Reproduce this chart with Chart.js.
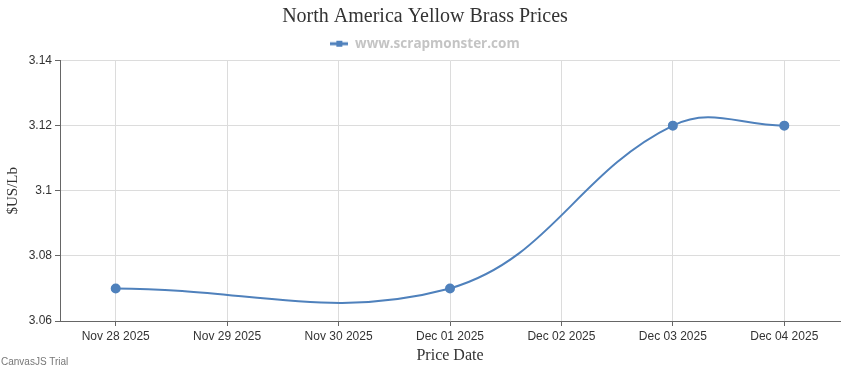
<!DOCTYPE html>
<html>
<head>
<meta charset="utf-8">
<script src="https://cdn.jsdelivr.net/npm/chart.js@4.4.0/dist/chart.umd.min.js"></script>
<style>
  body { margin: 0; background: #fff; }
  #wrap { position: relative; width: 850px; height: 370px; }
  #trial { position: absolute; left: 1px; top: 356px; font: 10px "Liberation Sans", Arial, sans-serif; color: #777; }
</style>
</head>
<body>
<div id="wrap">
  <canvas id="priceChart" width="850" height="370"></canvas>
  <div id="trial">CanvasJS Trial</div>
</div>
<script>
// dates on the x axis (one per day, prices only on some days)
const dateLabels = ["Nov 28 2025", "Nov 29 2025", "Nov 30 2025", "Dec 01 2025", "Dec 02 2025", "Dec 03 2025", "Dec 04 2025"];
const brassPrices = [3.07, null, null, 3.07, null, 3.12, 3.12];
const yTicks = [3.06, 3.08, 3.1, 3.12, 3.14];

const lineColor = '#4f81bc';

// legend marker: a short line with a square in the middle
function legendMarker() {
    let c = document.createElement('canvas');
    c.width = 18; c.height = 8;
    let g = c.getContext('2d');
    g.strokeStyle = lineColor;
    g.lineWidth = 3;
    g.beginPath(); g.moveTo(0, 4); g.lineTo(18, 4); g.stroke();
    g.fillStyle = lineColor;
    g.fillRect(6, 1, 6, 6);
    return c;
}

let ctx = document.getElementById('priceChart').getContext('2d');

let chart = new Chart(ctx, {
    type: 'line',
    data: {
        labels: dateLabels,
        datasets: [{
            label: 'www.scrapmonster.com',
            data: brassPrices,
            borderColor: lineColor,
            backgroundColor: lineColor,
            borderWidth: 2,
            pointRadius: 4,
            pointHoverRadius: 4,
            tension: 0.4,
            spanGaps: true,
            fill: false
        }]
    },
    options: {
        responsive: false,
        animation: false,
        layout: { padding: 0 },
        plugins: {
            title: {
                display: true,
                text: 'North America Yellow Brass Prices',
                color: '#333',
                font: { family: '"Liberation Serif", "Times New Roman", serif', size: 20, weight: 'normal' },
                padding: { top: 5, bottom: 1 }
            },
            legend: {
                display: true,
                labels: {
                    color: '#c4c4c4',
                    font: { family: '"Open Sans", "DejaVu Sans", sans-serif', size: 13.5, weight: 'bold' },
                    usePointStyle: true,
                    pointStyleWidth: 18,
                    padding: 7,
                    generateLabels: function(ch) {
                        return [{
                            text: ch.data.datasets[0].label,
                            pointStyle: legendMarker(),
                            fontColor: '#c4c4c4',
                            lineWidth: 0,
                            datasetIndex: 0
                        }];
                    }
                }
            },
            tooltip: { enabled: false }
        },
        scales: {
            x: {
                type: 'category',
                offset: true,
                grid: { offset: false, color: '#dcdcdc', tickColor: '#666', tickLength: 5, drawOnChartArea: true },
                border: { color: '#666', width: 1 },
                ticks: {
                    color: '#333',
                    font: { family: '"Liberation Sans", Arial, sans-serif', size: 12 },
                    padding: 3,
                    maxRotation: 0,
                    autoSkip: false
                },
                title: {
                    display: true,
                    text: 'Price Date',
                    color: '#333',
                    font: { family: '"Liberation Serif", "Times New Roman", serif', size: 16 },
                    padding: { top: 0, bottom: 5 }
                },
                afterFit: function(scale) { scale.width = 780; scale.height = 49; }
            },
            y: {
                min: yTicks[0],
                max: yTicks[yTicks.length - 1],
                afterBuildTicks: function(scale) {
                    scale.ticks = yTicks.map(v => ({ value: v }));
                },
                grid: { color: '#dcdcdc', tickColor: '#666', tickLength: 5 },
                border: { color: '#666', width: 1 },
                ticks: {
                    color: '#333',
                    font: { family: '"Liberation Sans", Arial, sans-serif', size: 12 },
                    padding: 3,
                    callback: function(v) { return String(+(+v).toFixed(2)); }
                },
                title: {
                    display: true,
                    text: '$US/Lb',
                    color: '#333',
                    font: { family: '"Liberation Serif", "Times New Roman", serif', size: 15 },
                    padding: { top: 4, bottom: 0 }
                },
                afterFit: function(scale) { scale.width = 60; }
            },
            // empty spacer on the right so the title stays centred on the page
            yRight: {
                position: 'right',
                display: true,
                grid: { display: false, drawTicks: false },
                border: { display: false },
                ticks: { display: false },
                afterFit: function(scale) { scale.width = 10; }
            }
        }
    }
});
</script>
</body>
</html>
